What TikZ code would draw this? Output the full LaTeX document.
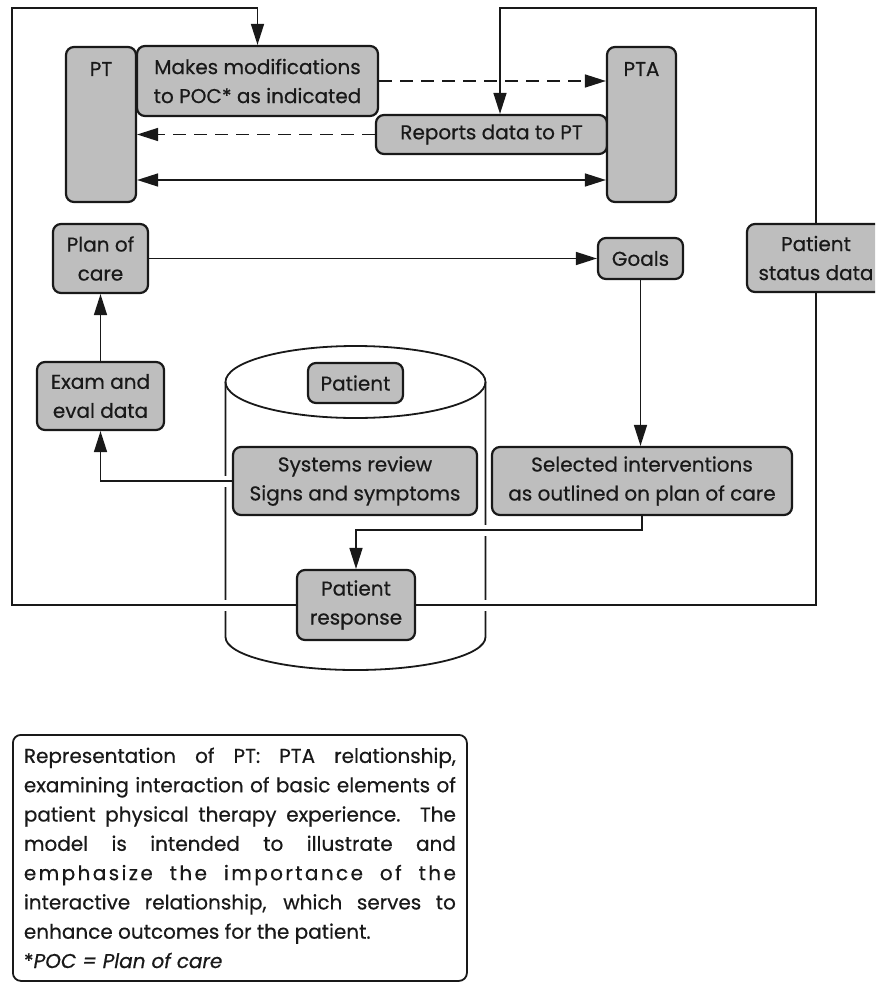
\documentclass[tikz,border=0pt]{standalone}
\usepackage{fontspec}
\setmainfont{Poppins}[FakeBold=0.5]
\usetikzlibrary{arrows.meta}
\definecolor{boxgray}{RGB}{190,190,190}
\definecolor{ink}{RGB}{25,25,25}
\newcommand\lab{\fontsize{20}{29}\selectfont}
\newcommand\capfont{\fontsize{20}{29.3}\selectfont}
\newcommand\jl[1]{\hbox to 432pt{\spaceskip=.28em plus 1fil minus .1em\relax #1}}
\newcommand\plainln[1]{\hbox to 432pt{#1\hfil}}
\tikzset{
  box/.style={draw=ink, line width=2.2pt, fill=boxgray, rounded corners=8pt, inner sep=0pt, align=center, font=\lab, text=ink},
  lbl/.style={font=\lab, text=ink, inner sep=0pt},
  conn/.style={draw=ink, line width=1.5pt},
  arr/.style={conn, -{Triangle[length=21pt,width=13pt]}},
  dbl/.style={conn, {Triangle[length=21pt,width=13pt]}-{Triangle[length=21pt,width=13pt]}},
  dsh/.style={dash pattern=on 13pt off 8pt},
  halo/.style={preaction={draw=white, line width=11pt, arrows=-}},
  cyl/.style={draw=ink, line width=1.8pt},
  capbox/.style={draw=ink, line width=1.8pt, rounded corners=8pt, inner sep=0pt, text=ink}
}
\begin{document}
\begin{tikzpicture}[x=1pt,y=-1pt]
\useasboundingbox (0,0) rectangle (875,982);
\clip (0,0) rectangle (875,982);

% cylinder
\draw[cyl] (355.5,382) ellipse [x radius=130pt, y radius=36pt];
\draw[cyl] (225.5,382) -- (225.5,637) arc[start angle=180, end angle=360, x radius=130pt, y radius=33pt] -- (485.5,382);

% coordinates
\coordinate (tl) at (12,8);
\coordinate (tm) at (500,8);
\coordinate (dy) at (0,180);
\coordinate (bend) at (0,530);

% node outlines used as connector ends
\path
  node[box, minimum width=70pt, minimum height=155pt, draw=none, fill=none] (pt) at (101,124.5) {}
  node[box, minimum width=241pt, minimum height=70pt, draw=none, fill=none] (mod) at (257.5,81) {}
  node[box, minimum width=231pt, minimum height=39pt, draw=none, fill=none] (rep) at (491.5,134.5) {}
  node[box, minimum width=69pt, minimum height=155pt, draw=none, fill=none] (pta) at (641.5,124.5) {}
  node[box, minimum width=95pt, minimum height=69pt, draw=none, fill=none] (poc) at (100.5,258.5) {}
  node[box, minimum width=85pt, minimum height=41pt, draw=none, fill=none] (goals) at (640.5,258.5) {}
  node[box, minimum width=138pt, minimum height=68pt, draw=none, fill=none] (psd) at (816,258) {}
  node[box, minimum width=127pt, minimum height=68pt, draw=none, fill=none] (exam) at (100.5,396) {}
  node[box, minimum width=244pt, minimum height=68pt, draw=none, fill=none] (sys) at (355,481) {}
  node[box, minimum width=300pt, minimum height=68pt, draw=none, fill=none] (sel) at (642,481) {}
  node[box, minimum width=118pt, minimum height=70pt, draw=none, fill=none] (resp) at (356,605) {};

% connectors
\draw[arr, halo] (resp.west) -| (tl) -| (mod.north);
\draw[conn, halo] (resp.east) -| (psd.south);
\draw[arr] (psd.north) |- (tm) -- (tm |- rep.north);
\draw[arr, dsh] (mod.east) -- (mod.east -| pta.west);
\draw[arr, dsh] (rep.west) -- (rep.west -| pt.east);
\draw[dbl] (pt.east |- dy) -- (pta.west |- dy);
\draw[arr] (poc.east) -- (goals.west);
\draw[arr] (goals.south) -- (goals.south |- sel.north);
\draw[arr] (exam.north) -- (poc.south);
\draw[arr, halo] (sys.west) -| (exam.south);
\draw[arr, halo] (sel.south) -- (sel.south |- bend) -| (resp.north);

% boxes
\node[box, minimum width=70pt, minimum height=155pt] (ptb) at (101,124.5) {};
\node[lbl] (ptl) at (101,69) {PT};
\node[box, minimum width=241pt, minimum height=70pt] (modb) at (257.5,81) {Makes modifications\\to POC* as indicated};
\node[box, minimum width=231pt, minimum height=39pt] (repb) at (491.5,134.5) {Reports data to PT};
\node[box, minimum width=69pt, minimum height=155pt] (ptab) at (641.5,124.5) {};
\node[lbl] (ptal) at (641.5,69) {PTA};
\node[box, minimum width=95pt, minimum height=69pt] (pocb) at (100.5,258.5) {Plan of\\care};
\node[box, minimum width=85pt, minimum height=41pt] (goalsb) at (640.5,258.5) {Goals};
\node[box, minimum width=138pt, minimum height=68pt] (psdb) at (816,258) {Patient\\status data};
\node[box, minimum width=127pt, minimum height=68pt] (examb) at (100.5,396) {Exam and\\eval data};
\node[box, minimum width=95pt, minimum height=40pt] (patient) at (355.5,383) {Patient};
\node[box, minimum width=244pt, minimum height=68pt] (sysb) at (355,481) {Systems review\\Signs and symptoms};
\node[box, minimum width=300pt, minimum height=68pt] (selb) at (642,481) {Selected interventions\\as outlined on plan of care};
\node[box, minimum width=118pt, minimum height=70pt] (respb) at (356,605) {Patient\\response};

% caption
\node[capbox, anchor=north west, minimum width=454pt, minimum height=246pt] (cap) at (12,734)
 {\capfont\vbox{%
  \jl{Representation of PT: PTA relationship,}
  \jl{examining interaction of basic elements of}
  \jl{patient physical therapy experience. The}
  \jl{model is intended to illustrate and}
  \jl{\addfontfeature{LetterSpace=12}emphasize the importance of the}
  \jl{interactive relationship, which serves to}
  \plainln{enhance outcomes for the patient.}
  \plainln{*\textit{POC = Plan of care}}}};
\end{tikzpicture}
\end{document}
